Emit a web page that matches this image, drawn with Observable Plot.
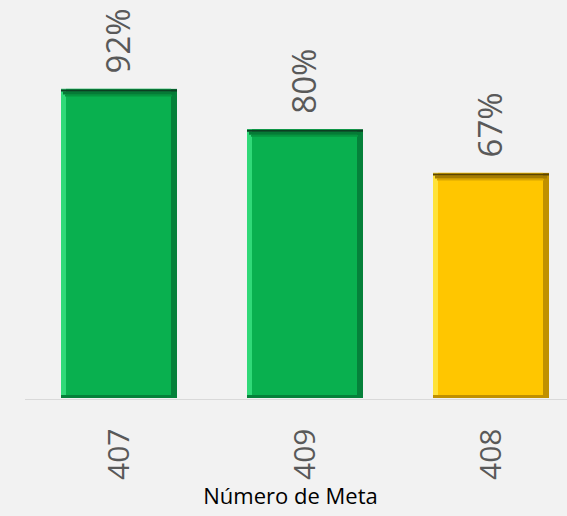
<!DOCTYPE html>
<html>
<head>
<meta charset="utf-8">
<script src="https://cdn.jsdelivr.net/npm/d3@7"></script>
<script src="https://cdn.jsdelivr.net/npm/@observablehq/plot@0.6"></script>
<style>
  html, body { margin: 0; padding: 0; background: #f2f2f2; }
  #chart svg { display: block; background: #f2f2f2; }
</style>
</head>
<body>
<div id="chart"></div>
<script>
const metas = ["407", "409", "408"];
const valores = [0.92, 0.80, 0.67];
const etiquetas = ["92%", "80%", "67%"];
const tituloX = "Número de Meta";

const data = metas.map((m, i) => ({ meta: m, valor: valores[i], etiqueta: etiquetas[i] }));

const verde = { main: "#09b04f", left: "#30d978", right: "#05813a", top: "#0c3f22", topMid: "#067a36", topLow: "#07963f" };
const amarillo = { main: "#ffc600", left: "#ffe23a", right: "#c09000", top: "#5c4500", topMid: "#a57c00", topLow: "#d9a600" };
const pal = d => (d.valor >= 0.75 ? verde : amarillo);

const chart = Plot.plot({
  width: 567,
  height: 516,
  marginLeft: 25,
  marginRight: 0,
  marginTop: 62,
  marginBottom: 118,
  style: { fontFamily: "'Open Sans', sans-serif", background: "#f2f2f2" },
  x: { domain: metas, paddingInner: 0.375, paddingOuter: 0.1405, align: 0.668 },
  y: { domain: [0, 1], axis: null },
  marks: [
    Plot.ruleY([0], { stroke: "#d9d9d9", strokeWidth: 1, dy: 1 }),
    Plot.barY(data, { x: "meta", y: "valor", fill: d => pal(d).right }),
    Plot.barY(data, { x: "meta", y: "valor", fill: d => pal(d).left, insetRight: 6, insetBottom: 3 }),
    Plot.barY(data, { x: "meta", y: "valor", fill: d => pal(d).main, insetLeft: 5, insetRight: 6, insetBottom: 3 }),
    Plot.tickY(data, { x: "meta", y: "valor", stroke: d => pal(d).topLow, strokeWidth: 2, dy: 6, insetLeft: 4, insetRight: 5 }),
    Plot.tickY(data, { x: "meta", y: "valor", stroke: d => pal(d).topMid, strokeWidth: 3, dy: 3.5, insetLeft: 2, insetRight: 2 }),
    Plot.tickY(data, { x: "meta", y: "valor", stroke: d => pal(d).top, strokeWidth: 2, dy: 1 }),
    Plot.text(data, { x: "meta", y: "valor", text: "etiqueta", rotate: -90, textAnchor: "start", dy: -16, fontSize: 33, fill: "#595959" }),
    Plot.axisX({ tickRotate: -90, tickSize: 0, tickPadding: 30, fontSize: 30, color: "#595959", label: null }),
    Plot.text([tituloX], { frameAnchor: "bottom", dx: -6, dy: 105, fontSize: 22, fill: "#000000" })
  ]
});
document.getElementById("chart").appendChild(chart);
</script>
</body>
</html>
